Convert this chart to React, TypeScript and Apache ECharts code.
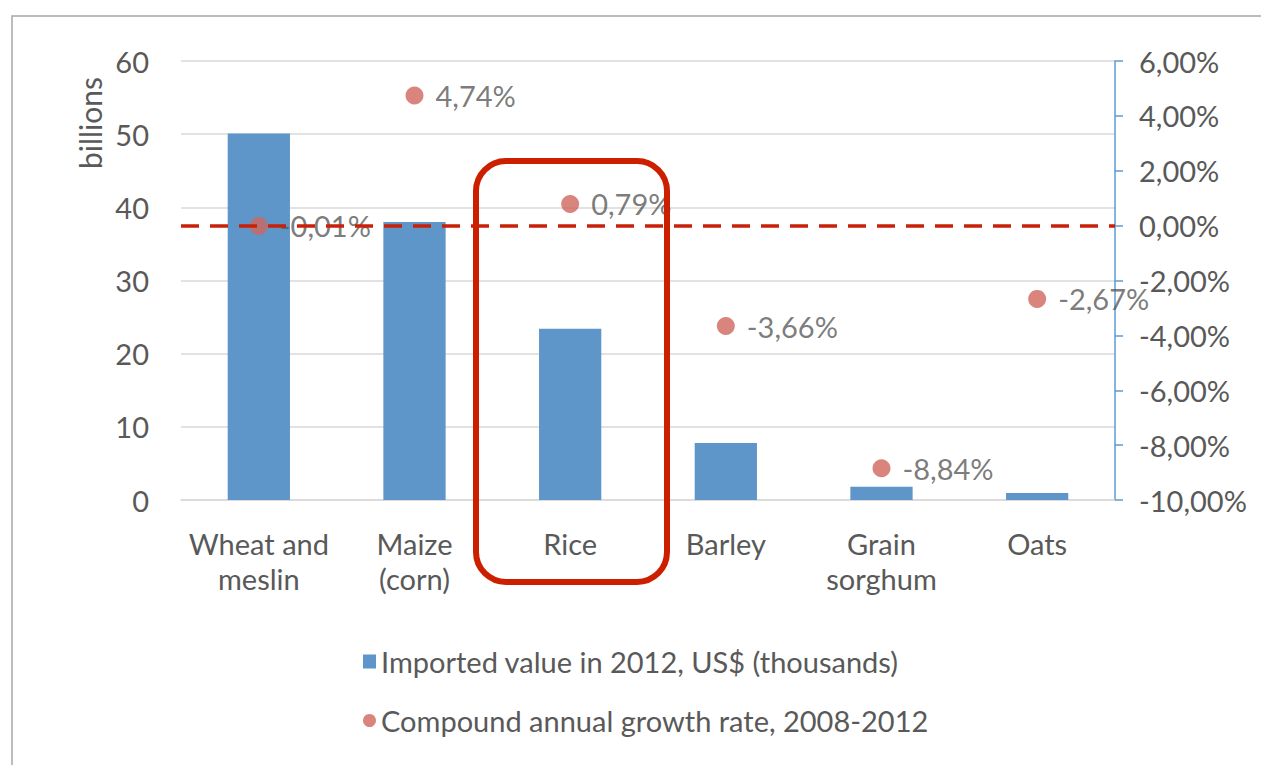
import React, { useEffect, useRef } from "react";
import * as echarts from "echarts";

const categories = ["Wheat and\nmeslin", "Maize\n(corn)", "Rice", "Barley", "Grain\nsorghum", "Oats"];
const importedValues = [50.1, 38.0, 23.4, 7.8, 1.8, 0.95];
const growthRates = [-0.01, 4.74, 0.79, -3.66, -8.84, -2.67];
const leftTicks = { min: 0, max: 60, interval: 10 };
const rightTicks = { min: -10, max: 6, interval: 2 };
const barName = "Imported value in 2012, US$ (thousands)";
const dotName = "Compound annual growth rate, 2008-2012";

const FONT = "Lato";
const FS = 29;
const TXT = "#595959";
const fmtPct = (v: number) => v.toFixed(2).replace(".", ",") + "%";

export default function App() {
  const ref = useRef<HTMLDivElement>(null);
  useEffect(() => {
    if (!ref.current) return;
    const chart = echarts.init(ref.current, null, { renderer: "svg" });
    chart.setOption({
      animation: false,
      backgroundColor: "#ffffff",
      textStyle: { fontFamily: FONT },
      grid: { left: 181, right: 146, top: 61, bottom: 265 },
      xAxis: {
        type: "category",
        data: categories,
        axisLine: { lineStyle: { color: "#D9D9D9", width: 1.5 } },
        axisTick: { show: false },
        axisLabel: { color: TXT, fontSize: FS, fontFamily: FONT, lineHeight: 35, margin: 26, interval: 0 },
      },
      yAxis: [
        {
          type: "value",
          ...leftTicks,
          axisLine: { show: false },
          axisTick: { show: false },
          splitLine: { lineStyle: { color: "#D9D9D9", width: 1.5 } },
          axisLabel: { color: TXT, fontSize: FS, fontFamily: FONT, margin: 32 },
        },
        {
          type: "value",
          ...rightTicks,
          position: "right",
          axisLine: { show: true, lineStyle: { color: "#5B9BD5", width: 1.5 } },
          axisTick: { show: true, length: 8, lineStyle: { color: "#5B9BD5", width: 1.5 } },
          splitLine: { show: false },
          axisLabel: { color: TXT, fontSize: FS, fontFamily: FONT, margin: 24, formatter: fmtPct },
        },
      ],
      legend: {
        orient: "vertical",
        left: 358,
        top: 642,
        itemGap: 30,
        itemWidth: 13,
        itemHeight: 14,
        textStyle: { color: TXT, fontSize: FS, fontFamily: FONT },
        data: [
          { name: barName, icon: "rect" },
          { name: dotName, icon: "circle" },
        ],
      },
      series: [
        {
          name: barName,
          type: "bar",
          yAxisIndex: 0,
          data: importedValues,
          barCategoryGap: "60%",
          itemStyle: { color: "#5F96C9" },
        },
        {
          name: dotName,
          type: "scatter",
          yAxisIndex: 1,
          data: growthRates,
          symbolSize: 18,
          itemStyle: { color: "#D0665E" },
          label: {
            show: true,
            position: "right",
            distance: 12,
            color: TXT,
            fontSize: FS,
            fontFamily: FONT,
            formatter: (p: any) => fmtPct(p.value),
          },
          markLine: {
            silent: true,
            symbol: "none",
            label: { show: false },
            lineStyle: { color: "#C9200A", width: 3.5, type: [18, 11] },
            data: [{ yAxis: 0 }],
          },
        },
      ],
      graphic: [
        {
          type: "rect",
          shape: { x: 12, y: 16, width: 1300, height: 800 },
          style: { fill: "none", stroke: "#A6A6A6", lineWidth: 1.5 },
          silent: true,
        },
        {
          type: "text",
          x: 90,
          y: 123,
          rotation: Math.PI / 2,
          style: {
            text: "billions",
            fill: TXT,
            fontSize: 30,
            fontFamily: FONT,
            align: "center",
            verticalAlign: "middle",
          },
        },
        {
          type: "rect",
          shape: { x: 476, y: 161, width: 191, height: 421, r: 30 },
          style: { fill: "none", stroke: "#CC1F00", lineWidth: 6 },
          z: 100,
        },
      ],
    });
    return () => chart.dispose();
  }, []);
  return (
    <div
      ref={ref}
      style={{ position: "fixed", left: 0, top: 0, width: 1261, height: 765, background: "#fff" }}
    />
  );
}
